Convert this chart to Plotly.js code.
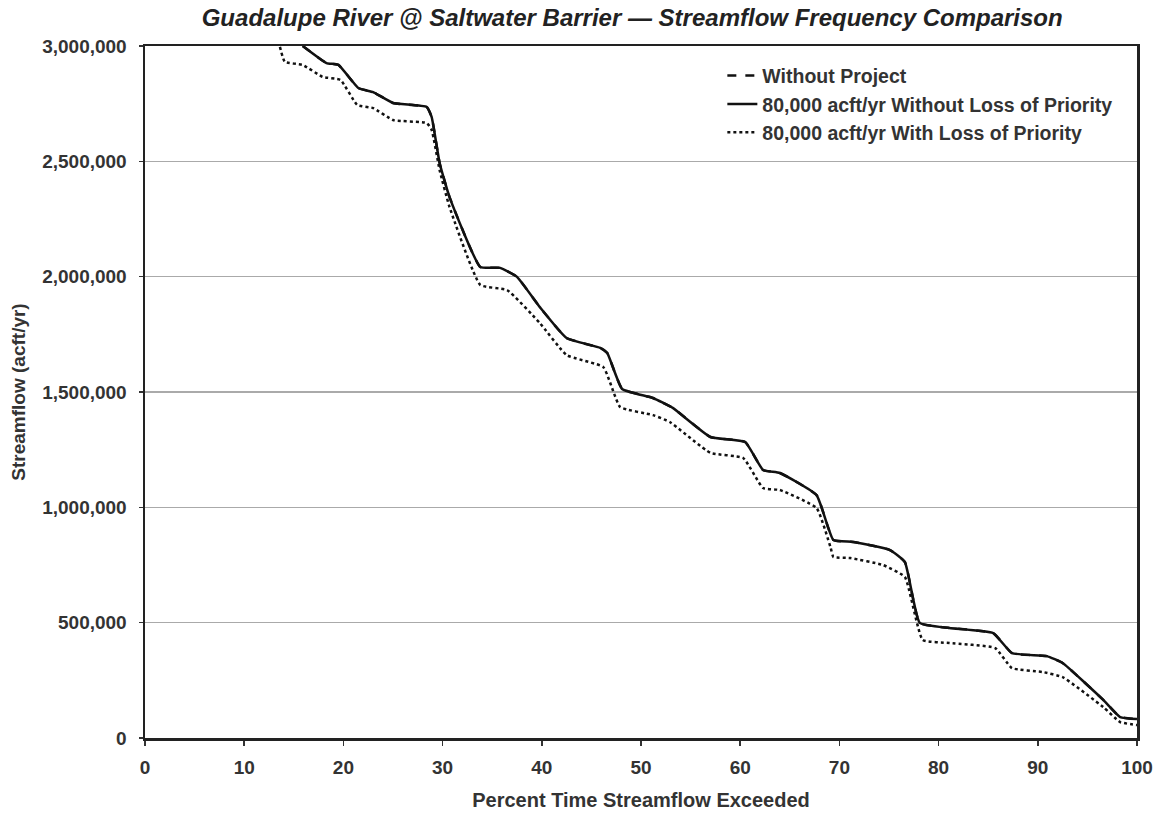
<!DOCTYPE html>
<html>
<head>
<meta charset="utf-8">
<script src="https://cdn.plot.ly/plotly-3.0.1.min.js"></script>
<style>html,body{margin:0;padding:0;background:#fff;}#chart{width:1160px;height:818px;}</style>
</head>
<body>
<div id="chart"></div>
<script>
// Percent time exceeded (x) and streamflow in acft/yr (y)
const xNoLoss = [15.9, 18.3, 19.5, 21.5, 23.0, 25.0, 28.4, 28.9, 29.7, 30.7, 33.8, 35.8, 37.5, 39.8, 42.5, 45.9, 46.6, 48.1, 51.2, 53.2, 57.0, 60.5, 62.3, 64.0, 67.7, 69.4, 71.4, 75.1, 76.6, 78.1, 81.1, 85.5, 87.4, 90.9, 92.5, 96.6, 98.3, 100];
const yNoLoss = [3000000, 2926000, 2918000, 2818000, 2800000, 2753000, 2736000, 2692000, 2493000, 2345000, 2042000, 2038000, 1999000, 1868000, 1734000, 1691000, 1669000, 1513000, 1474000, 1431000, 1305000, 1283000, 1162000, 1149000, 1053000, 858000, 850000, 815000, 763000, 499000, 477000, 455000, 368000, 355000, 325000, 165000, 91000, 82000];

// Without Project appears coincident with the "Without Loss of Priority" curve
const xWithoutProject = xNoLoss;
const yWithoutProject = yNoLoss;

const xWithLoss = [13.6, 14.1, 15.9, 17.9, 19.7, 21.4, 23.0, 25.0, 28.4, 28.9, 29.7, 30.7, 33.8, 36.5, 39.8, 42.5, 46.2, 47.9, 51.2, 52.9, 57.0, 60.3, 62.3, 64.0, 67.7, 69.1, 69.4, 71.1, 74.4, 76.6, 78.4, 81.1, 85.7, 87.4, 90.5, 92.5, 96.6, 98.3, 100];
const yWithLoss = [2996000, 2931000, 2918000, 2866000, 2853000, 2744000, 2731000, 2679000, 2666000, 2636000, 2462000, 2302000, 1964000, 1942000, 1799000, 1660000, 1608000, 1435000, 1400000, 1370000, 1236000, 1214000, 1084000, 1075000, 997000, 828000, 785000, 780000, 750000, 698000, 425000, 412000, 390000, 303000, 286000, 264000, 134000, 69000, 56000];

const seriesNames = ["Without Project", "80,000 acft/yr Without Loss of Priority", "80,000 acft/yr With Loss of Priority"];
const xTicks = [0, 10, 20, 30, 40, 50, 60, 70, 80, 90, 100];
const yTicks = [0, 500000, 1000000, 1500000, 2000000, 2500000, 3000000];
const yTickText = ["0", "500,000", "1,000,000", "1,500,000", "2,000,000", "2,500,000", "3,000,000"];

const FONT = "Liberation Sans, Arial, sans-serif";

const traces = [
  {x: xWithoutProject, y: yWithoutProject, name: seriesNames[0], mode: "lines",
   line: {color: "#111", width: 2.5, dash: "dash", shape: "spline", smoothing: 0.4}},
  {x: xNoLoss, y: yNoLoss, name: seriesNames[1], mode: "lines",
   line: {color: "#111", width: 2.5, shape: "spline", smoothing: 0.4}},
  {x: xWithLoss, y: yWithLoss, name: seriesNames[2], mode: "lines",
   line: {color: "#111", width: 2.5, dash: "dot", shape: "spline", smoothing: 0.4}}
];

const layout = {
  width: 1160, height: 818,
  margin: {l: 145, r: 23, t: 46, b: 80},
  paper_bgcolor: "#fff", plot_bgcolor: "#fff",
  font: {family: FONT, color: "#333"},
  title: {text: "<b><i>Guadalupe River @ Saltwater Barrier — Streamflow Frequency Comparison</i></b>",
          font: {family: FONT, size: 24, color: "#222"},
          x: 0.545, xanchor: "center", y: 0.978, yanchor: "middle", xref: "container", yref: "container"},
  xaxis: {range: [0, 100], tickvals: xTicks, ticks: "outside", ticklen: 5, tickwidth: 1.5, tickcolor: "#333",
          ticklabelstandoff: 6,
          showgrid: false, zeroline: false, showline: true, linecolor: "#222", linewidth: 2.5, mirror: true,
          tickfont: {family: FONT, size: 19, color: "#333", weight: "bold"},
          title: {text: "<b>Percent Time Streamflow Exceeded</b>", font: {family: FONT, size: 20, color: "#333"}, standoff: 16}},
  yaxis: {range: [0, 3000000], tickvals: yTicks, ticktext: yTickText, ticks: "outside", ticklen: 4, tickwidth: 1.5, tickcolor: "#333",
          ticklabelstandoff: 8,
          showgrid: true, gridcolor: "#aaa", gridwidth: 1.5, zeroline: false, showline: true, linecolor: "#222", linewidth: 2.5, mirror: true,
          tickfont: {family: FONT, size: 19, color: "#333", weight: "bold"},
          title: {text: "<b>Streamflow (acft/yr)</b>", font: {family: FONT, size: 19, color: "#333"}, standoff: 12}},
  legend: {x: 0.582, y: 0.985, xanchor: "left", yanchor: "top", bgcolor: "rgba(0,0,0,0)",
           font: {family: FONT, size: 19.5, color: "#333", weight: "bold"}, tracegroupgap: 0, itemwidth: 30},
  showlegend: true
};

Plotly.newPlot("chart", traces, layout, {displayModeBar: false, staticPlot: true});
</script>
</body>
</html>
